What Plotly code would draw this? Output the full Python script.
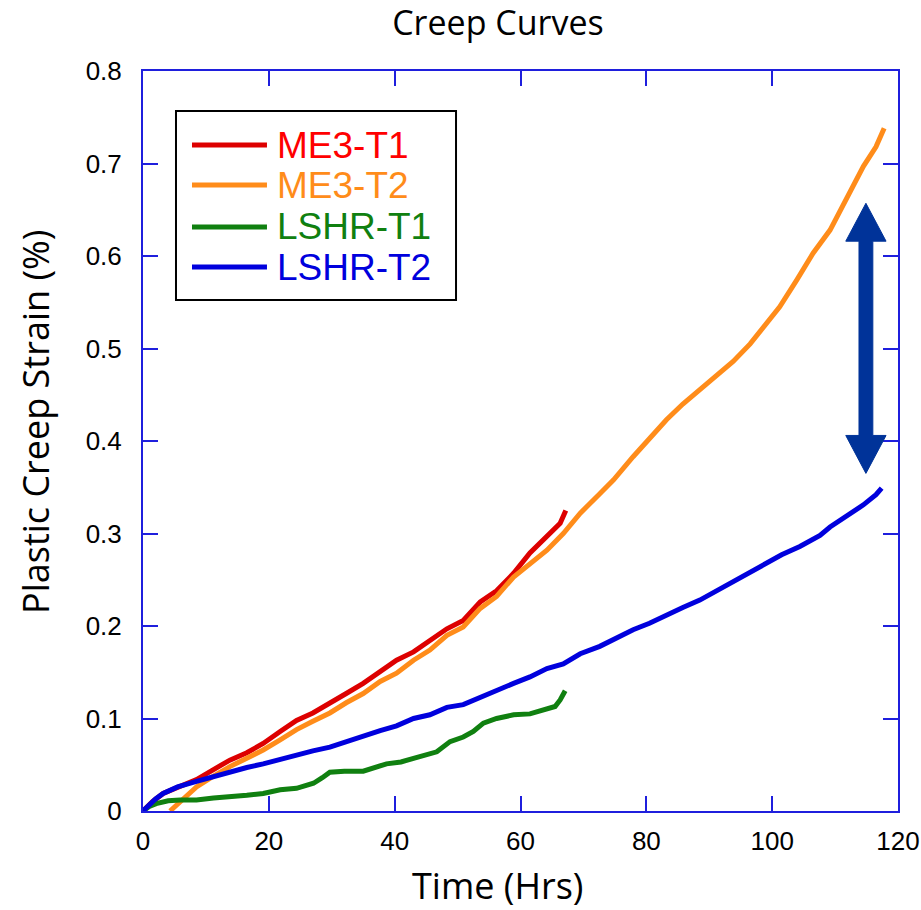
import plotly.graph_objects as go

# ---------------- data ----------------
me3_t1_x = [0, 1.5, 3.2, 5.5, 8.5, 11, 13.8, 16.5, 19.1, 21.8, 24.4, 27, 29.7, 32.3, 35,
            37.7, 40.3, 43, 45.6, 48.3, 50.9, 53.6, 56.2, 58.9, 61.5, 64.2, 66.3, 67.2]
me3_t1_y = [0, 0.010, 0.019, 0.026, 0.034, 0.044, 0.055, 0.063, 0.073, 0.086, 0.098, 0.106,
            0.116, 0.127, 0.138, 0.150, 0.163, 0.172, 0.185, 0.197, 0.206, 0.226, 0.238, 0.257,
            0.279, 0.297, 0.311, 0.325]

me3_t2_x = [4.3, 6.5, 8.5, 11, 13.8, 16.5, 19.1, 21.8, 24.4, 27, 29.7, 32.3, 35, 37.7, 40.3,
            43, 45.6, 48.3, 50.9, 53.6, 56.2, 58.9, 61.5, 64.2, 66.8, 69.5, 72.6, 74.8, 77.9,
            80.5, 83.2, 85.8, 88.5, 91.2, 93.8, 96.5, 99.1, 101.2, 103.9, 106.5, 109.2, 111.8,
            114.5, 116.5, 117.8]
me3_t2_y = [0, 0.014, 0.026, 0.037, 0.048, 0.057, 0.066, 0.077, 0.088, 0.097, 0.106, 0.117,
            0.127, 0.140, 0.149, 0.163, 0.174, 0.190, 0.199, 0.219, 0.232, 0.253, 0.268, 0.282,
            0.300, 0.322, 0.343, 0.358, 0.383, 0.403, 0.423, 0.440, 0.455, 0.470, 0.486, 0.505,
            0.527, 0.545, 0.574, 0.603, 0.628, 0.661, 0.697, 0.718, 0.738]

lshr_t1_x = [0, 1, 2.1, 4, 5.9, 8.5, 11.2, 13.8, 16.5, 19.1, 21.8, 24.4, 27.1, 28.5, 29.7, 32,
             35, 38.7, 41, 43, 46.7, 48.8, 50.9, 52.5, 54.1, 56.2, 58.9, 61.5, 64.2, 65.5,
             66.3, 67.1]
lshr_t1_y = [0, 0.005, 0.008, 0.011, 0.012, 0.012, 0.014, 0.015, 0.017, 0.019, 0.023, 0.0245,
             0.030, 0.036, 0.042, 0.043, 0.043, 0.051, 0.053, 0.057, 0.064, 0.075, 0.080, 0.086,
             0.095, 0.100, 0.104, 0.105, 0.111, 0.113, 0.120, 0.130]

lshr_t2_x = [0, 1, 2, 3.2, 5.5, 8.5, 11, 13.8, 16.5, 19.1, 21.8, 24.4, 27, 29.7, 32.3, 35,
             37.7, 40.3, 43, 45.6, 48.3, 50.9, 53.6, 56.2, 58.9, 61.5, 64.2, 66.8, 69.5, 72.6,
             75, 77.9, 80.5, 83.2, 85.8, 88.5, 91.2, 93.8, 96.5, 99.1, 101.5, 104.4, 107.6,
             109.2, 111.5, 114.5, 116.5, 117.4]
lshr_t2_y = [0, 0.007, 0.013, 0.019, 0.026, 0.032, 0.037, 0.042, 0.047, 0.051, 0.056, 0.061,
             0.065, 0.069, 0.075, 0.080, 0.087, 0.092, 0.100, 0.104, 0.112, 0.115, 0.123, 0.131,
             0.138, 0.145, 0.154, 0.159, 0.170, 0.178, 0.186, 0.196, 0.203, 0.212, 0.220, 0.228,
             0.238, 0.248, 0.257, 0.268, 0.277, 0.286, 0.298, 0.307, 0.317, 0.331, 0.342, 0.349]

series_names = ["ME3-T1", "ME3-T2", "LSHR-T1", "LSHR-T2"]
line_colors = ["#dd0000", "#ff8c1a", "#108010", "#0000dd"]
text_colors = ["#ff0000", "#ff8c1a", "#108010", "#0000dd"]

x_ticks = [0, 20, 40, 60, 80, 100, 120]
y_ticks = [0, 0.1, 0.2, 0.3, 0.4, 0.5, 0.6, 0.7, 0.8]

# double arrow (data units)
arrow_x = 114.9
arrow_top = 0.657
arrow_bottom = 0.365
arrow_head_half = 3.2
arrow_shaft_half = 1.1
arrow_head_len = 0.041
arrow_color = "#003399"

axis_color = "#1f1fdd"

FIG_W, FIG_H = 921, 910

# ---------------- figure ----------------
fig = go.Figure()
all_x = [me3_t1_x, me3_t2_x, lshr_t1_x, lshr_t2_x]
all_y = [me3_t1_y, me3_t2_y, lshr_t1_y, lshr_t2_y]
for xs, ys, nm, col in zip(all_x, all_y, series_names, line_colors):
    fig.add_trace(go.Scatter(x=xs, y=ys, mode="lines", name=nm,
                             line=dict(color=col, width=5), showlegend=False))

axis_common = dict(showline=True, linecolor=axis_color, linewidth=2, mirror="ticks",
                   ticks="inside", ticklen=15, tickwidth=2, tickcolor=axis_color,
                   showgrid=False, zeroline=False, automargin=False,
                   tickfont=dict(family="Liberation Sans, Arial", size=26, color="black"))

fig.update_xaxes(range=[0, 120], tickvals=x_ticks, ticklabelstandoff=6, **axis_common)
fig.update_yaxes(range=[0, 0.8], tickvals=y_ticks, ticklabelstandoff=14, **axis_common)

# arrow shape
xc, t, b = arrow_x, arrow_top, arrow_bottom
hw, sw, hl = arrow_head_half, arrow_shaft_half, arrow_head_len
path = (f"M {xc},{t} L {xc+hw},{t-hl} L {xc+sw},{t-hl} L {xc+sw},{b+hl} L {xc+hw},{b+hl} "
        f"L {xc},{b} L {xc-hw},{b+hl} L {xc-sw},{b+hl} L {xc-sw},{t-hl} L {xc-hw},{t-hl} Z")
fig.add_shape(type="path", path=path, xref="x", yref="y",
              fillcolor=arrow_color, line=dict(color=arrow_color, width=1))

# custom legend box
leg_x0, leg_x1, leg_y0, leg_y1 = 0.0437, 0.4146, 0.6905, 0.9459
fig.add_shape(type="rect", xref="paper", yref="paper", x0=leg_x0, x1=leg_x1,
              y0=leg_y0, y1=leg_y1, line=dict(color="black", width=2), fillcolor="white",
              layer="below")
row_y = [0.900, 0.8459, 0.7892, 0.7351]
for ry, nm, lc, tc in zip(row_y, series_names, line_colors, text_colors):
    fig.add_shape(type="line", xref="paper", yref="paper", x0=0.0649, x1=0.1642,
                  y0=ry, y1=ry, line=dict(color=lc, width=5))
    fig.add_annotation(xref="paper", yref="paper", x=0.1748, y=ry, text=nm,
                       showarrow=False, xanchor="left", yanchor="middle",
                       font=dict(family="Liberation Sans, Arial", size=37, color=tc))

# axis titles
fig.add_annotation(xref="paper", yref="paper", x=0.469, y=-0.100, text="Time (Hrs)",
                   showarrow=False, xanchor="center", yanchor="middle",
                   font=dict(family="Open Sans", size=36, color="black"))
fig.add_annotation(xref="paper", yref="paper", x=-0.1417, y=0.5257,
                   text="Plastic Creep Strain (%)", textangle=-90,
                   showarrow=False, xanchor="center", yanchor="middle",
                   font=dict(family="Open Sans", size=36, color="black"))

fig.update_layout(
    width=FIG_W, height=FIG_H,
    margin=dict(l=143, r=23, t=71, b=99, autoexpand=False),
    paper_bgcolor="white", plot_bgcolor="white",
    title=dict(text="Creep Curves", x=498 / FIG_W, xref="container", xanchor="center",
               y=1 - 23 / FIG_H, yref="container", yanchor="middle",
               font=dict(family="Open Sans", size=34, color="black")),
    showlegend=False,
)

# remove the default page margin so the figure fills the window exactly
fig.write_html("out.html", config={"displayModeBar": False},
               post_script="document.body.style.margin='0px';document.body.style.overflow='hidden';")
